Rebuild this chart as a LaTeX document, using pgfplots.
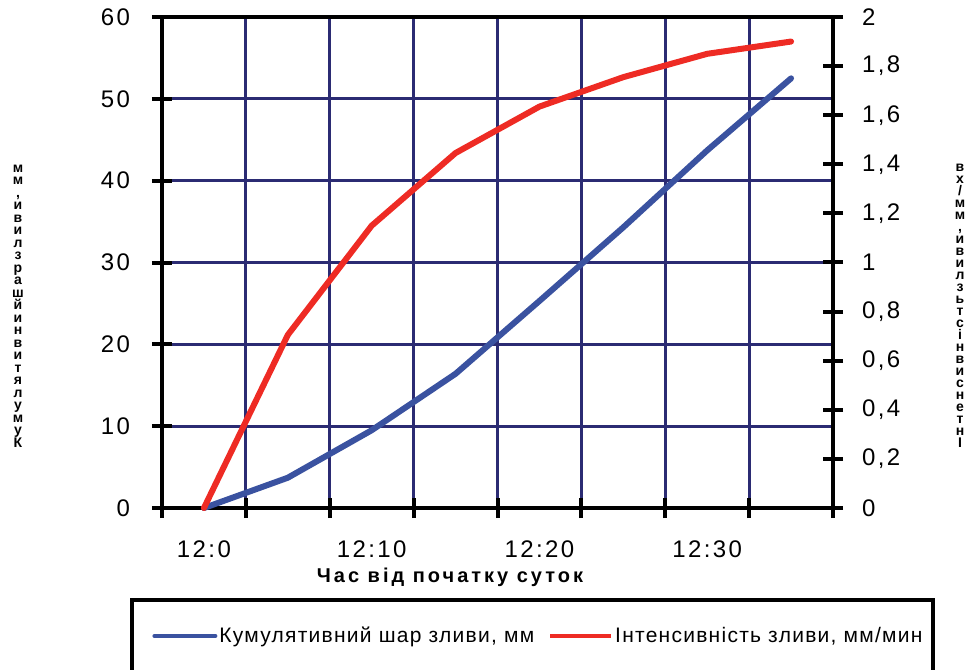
\documentclass[border=0pt]{standalone}
\usepackage{fontspec}
\setmainfont{Liberation Sans}
\newfontfamily\tickfont[LetterSpace=10]{Liberation Sans}
\newfontfamily\legfont[LetterSpace=6]{Liberation Sans}
\newfontfamily\labfont[LetterSpace=15]{Liberation Sans}
\usepackage{pgfplots}
\pgfplotsset{compat=1.18}
\definecolor{gridnavy}{RGB}{43,43,115}
\definecolor{cblue}{RGB}{58,82,160}
\definecolor{cred}{RGB}{238,43,36}
\begin{document}
\begin{tikzpicture}
\useasboundingbox (-81pt,-80.5pt) rectangle (408.5pt,254pt);
\begin{axis}[
  at={(0pt,0pt)}, anchor=south west, scale only axis,
  width=335.5pt, height=245.5pt,
  xmin=0, xmax=8, ymin=0, ymax=60,
  xtick={0,1,...,8}, xticklabels={},
  ytick={0,10,...,60},
  extra x ticks={0.5,2.5,4.5,6.5},
  extra x tick labels={12:0,12:10,12:20,12:30},
  extra x tick style={major tick length=0pt, grid=none},
  grid=major,
  grid style={line width=1.4pt, color=gridnavy},
  axis line style={line width=2pt, black},
  tick style={line width=2pt, black},
  major tick length=10pt, tick align=center,
  xtick pos=bottom, ytick pos=left,
  /pgf/number format/assume math mode=true,
  tick label style={font=\tickfont\fontsize{12}{14}\selectfont},
  xticklabel style={anchor=north, yshift=-13pt},
  yticklabel style={anchor=east, xshift=-7.5pt},
  clip=false,
  legend columns=2,
  legend style={at={(-0.0149,-0.2607)}, anchor=west, draw=none, fill=none,
    font=\legfont\fontsize{10.5}{12}\selectfont, inner sep=0pt,
    nodes={inner sep=1pt},
    /tikz/every even column/.append style={column sep=6pt}},
  legend image code/.code={\draw[#1, line width=2pt] (0pt,0pt) -- (30.5pt,0pt);},
]
\addplot[cblue, line width=3pt, line join=round, line cap=round] coordinates {
  (0.5,0) (1.5,3.7) (2.5,9.5) (3.5,16.4) (4.5,25.3) (5.5,34.3) (6.5,43.7) (7.5,52.5)};
\addlegendentry{Кумулятивний шар зливи, мм}
\addlegendimage{cred, line width=3pt}
\addlegendentry{Інтенсивність зливи, мм/мин}
\end{axis}
\begin{axis}[
  at={(0pt,0pt)}, anchor=south west, scale only axis,
  width=335.5pt, height=245.5pt,
  xmin=0, xmax=8, ymin=0, ymax=2,
  axis y line*=right, axis x line=none,
  ytick={0,0.2,0.4,0.6,0.8,1,1.2,1.4,1.6,1.8,2},
  yticklabels={0,{0,2},{0,4},{0,6},{0,8},1,{1,2},{1,4},{1,6},{1,8},2},
  axis line style={line width=2pt, black},
  tick style={line width=2pt, black},
  major tick length=10pt, tick align=center,
  tick label style={font=\tickfont\fontsize{12}{14}\selectfont},
  yticklabel style={anchor=west, xshift=6pt},
  clip=false,
]
\addplot[cred, line width=3pt, line join=round, line cap=round] coordinates {
  (0.5,0) (1.5,0.705) (2.5,1.15) (3.5,1.446) (4.5,1.635) (5.5,1.755) (6.5,1.85) (7.5,1.9)};
\end{axis}
\draw[line width=2pt, black] (-15pt,-82pt) -- (-15pt,-46pt) -- (385.5pt,-46pt) -- (385.5pt,-82pt);
\node[font=\labfont\bfseries\fontsize{10}{12}\selectfont] at (144pt,-34.5pt) {Час від початку суток};
\node[font={\bfseries\fontsize{7}{6.25}\selectfont\lineskiplimit=-20pt}, align=center, inner sep=0pt] at (-72pt,101pt)
  {м\\м\\,\\и\\в\\и\\л\\з\\р\\а\\ш\\й\\и\\н\\в\\и\\т\\я\\л\\у\\м\\у\\К};
\node[font={\bfseries\fontsize{7}{6}\selectfont\lineskiplimit=-20pt}, align=center, inner sep=0pt] at (399pt,101pt)
  {в\\х\\/\\м\\м\\,\\и\\в\\и\\л\\з\\ь\\т\\с\\і\\н\\в\\и\\с\\н\\е\\т\\н\\І};
\end{tikzpicture}
\end{document}
